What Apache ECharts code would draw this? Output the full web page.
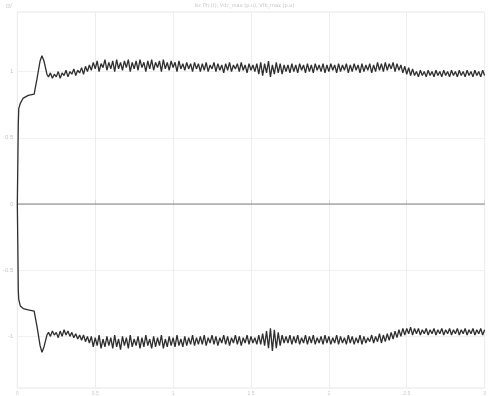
<!DOCTYPE html>
<html>
<head>
<meta charset="utf-8">
<script src="https://cdn.jsdelivr.net/npm/echarts@6/dist/echarts.min.js"></script>
<style>
  html, body { margin: 0; padding: 0; background: #fff; }
  #chart { width: 489px; height: 396px; }
</style>
</head>
<body>
<div id="chart"></div>
<script>
// Start-up transient, read point by point
const tTrans = [0, 0.003, 0.006, 0.009, 0.019, 0.038, 0.07, 0.108, 0.127, 0.146, 0.158, 0.171, 0.19];
const upTrans = [0, 0.3, 0.6, 0.72, 0.76, 0.8, 0.82, 0.83, 0.95, 1.08, 1.12, 1.08, 0.98];
const loTrans = [0, -0.3, -0.65, -0.72, -0.77, -0.79, -0.8, -0.81, -0.93, -1.07, -1.12, -1.08, -0.99];

// Steady part, sampled every steadyStep from steadyStart
const steadyStart = 0.2;
const steadyStep = 0.0125;
const upSteady = [
  0.96, 0.99, 0.95, 0.98, 0.96, 1.00, 0.95, 0.99, 0.97, 1.01, 0.96, 1.00, 0.98, 1.02, 0.97, 1.01, 0.99, 1.03, 0.98, 1.04, 1.00, 1.05,
  1.01, 1.07, 1.02, 1.08, 1.00, 1.06, 1.03, 1.09, 1.01, 1.07, 1.02, 1.08, 1.00, 1.09, 1.02, 1.07,
  1.01, 1.08, 1.03, 1.09, 1.00, 1.07, 1.02, 1.08, 1.01, 1.09, 1.03, 1.07, 1.00, 1.08, 1.02, 1.09,
  1.01, 1.07, 1.03, 1.08, 1.00, 1.09, 1.02, 1.07, 1.01, 1.08, 1.03, 1.07, 1.00, 1.08, 1.02, 1.06,
  1.01, 1.07, 1.02, 1.06, 1.00, 1.07, 1.02, 1.06,
  1.00, 1.06, 1.01, 1.07, 1.00, 1.05, 1.02, 1.07, 1.00, 1.06, 1.01, 1.05, 0.99, 1.06, 1.01, 1.07,
  1.00, 1.05, 1.02, 1.06, 1.00, 1.07, 1.01, 1.05, 0.99, 1.06, 1.01, 1.05, 1.00, 1.06,
  0.98, 1.07, 0.97, 1.06, 0.99, 1.08, 0.96, 1.05, 0.98, 1.07, 0.99, 1.06, 0.98, 1.05, 1.00,
  1.05, 0.99, 1.06, 1.00, 1.05, 0.99, 1.06, 1.01, 1.05, 0.99, 1.06, 1.00, 1.05, 0.99, 1.06, 1.01,
  1.05, 1.00, 1.06, 0.99, 1.05, 1.00, 1.06, 1.01, 1.05, 0.99, 1.06, 1.00, 1.05, 1.01, 1.06, 0.99,
  1.05, 1.00, 1.06, 1.01, 1.05, 0.99, 1.06, 1.00, 1.05, 1.01, 1.06, 0.99, 1.05, 1.00, 1.07, 1.01,
  1.06, 1.00, 1.07, 1.01, 1.06, 1.02, 1.07, 1.00, 1.06, 1.01, 1.05, 0.99, 1.04, 0.98, 1.03, 0.97,
  1.02, 0.97,
  1.00, 0.96, 1.01, 0.97, 1.00, 0.96, 1.01, 0.97, 1.00, 0.96, 1.01, 0.97, 1.00, 0.96, 1.01, 0.97,
  1.00, 0.96, 1.01, 0.97, 1.00, 0.96, 1.01, 0.97, 1.00, 0.96, 1.01, 0.97, 1.00, 0.96, 1.01, 0.97,
  1.00, 0.96, 1.01, 0.97
];
const loSteady = [
  -0.97, -1.00, -0.96, -0.99, -0.97, -1.01, -0.96, -1.00, -0.95, -0.99, -0.96, -1.00, -0.97, -1.01, -0.98, -1.02, -0.99, -1.03, -0.99, -1.04, -1.00, -1.05,
  -1.00, -1.08, -1.01, -1.07, -0.99, -1.09, -1.02, -1.08, -1.00, -1.07, -1.01, -1.09, -0.99, -1.08, -1.02, -1.10,
  -1.00, -1.07, -1.01, -1.09, -0.99, -1.08, -1.02, -1.07, -1.00, -1.09, -1.01, -1.08, -0.99, -1.07, -1.02, -1.09,
  -1.00, -1.08, -1.01, -1.07, -0.99, -1.09, -1.02, -1.08, -1.00, -1.07, -1.01, -1.08, -0.99, -1.07, -1.02, -1.08,
  -1.00, -1.07, -1.01, -1.06, -0.99, -1.07, -1.01, -1.06,
  -1.00, -1.06, -0.99, -1.07, -1.01, -1.05, -0.99, -1.06, -1.00, -1.07, -1.01, -1.05, -0.99, -1.06, -1.00, -1.07,
  -1.01, -1.05, -0.99, -1.06, -1.00, -1.07, -1.01, -1.05, -0.99, -1.06, -1.00, -1.05, -1.01, -1.06,
  -0.99, -1.06, -0.98, -1.07, -0.96, -1.09, -0.94, -1.11, -0.95, -1.09, -0.97, -1.07, -0.99, -1.05, -1.00,
  -1.05, -0.99, -1.06, -1.00, -1.05, -0.99, -1.06, -1.01, -1.05, -0.99, -1.06, -1.00, -1.05, -0.99, -1.06, -1.01,
  -1.05, -1.00, -1.06, -0.99, -1.05, -1.00, -1.06, -1.01, -1.05, -0.99, -1.06, -1.00, -1.05, -1.01, -1.06, -0.99,
  -1.05, -1.00, -1.06, -1.01, -1.05, -0.99, -1.06, -1.00, -1.05, -1.01, -1.04, -0.99, -1.05, -1.00, -1.04, -0.98,
  -1.05, -0.99, -1.04, -0.98, -1.03, -0.97, -1.02, -0.96, -1.01, -0.95, -1.00, -0.94, -0.99, -0.94, -0.98, -0.93,
  -0.99, -0.94,
  -0.98, -0.94, -0.99, -0.95, -0.98, -0.94, -0.99, -0.95, -0.98, -0.94, -0.99, -0.95, -0.98, -0.94, -0.99, -0.95,
  -0.98, -0.94, -0.99, -0.95, -0.98, -0.94, -0.99, -0.95, -0.98, -0.94, -0.99, -0.95, -0.98, -0.94, -0.99, -0.95,
  -0.98, -0.94, -0.99, -0.95
];
const zeroT = [0, 3];
const zeroV = [0, 0];

const xTicks = [0, 0.5, 1, 1.5, 2, 2.5, 3];
const yTicks = [-1, -0.5, 0, 0.5, 1];
const titleText = 'Isc Ph (t), Vdc_max (p.u), Vfb_max (p.u)';

function buildSeries(trans, steady) {
  const pts = tTrans.map((t, i) => [t, trans[i]]);
  steady.forEach((v, i) => pts.push([steadyStart + i * steadyStep, v]));
  return pts;
}

const chart = echarts.init(document.getElementById('chart'), null, { renderer: 'canvas' });

const lineStyle = { color: '#2e2e2e', width: 1.3 };

chart.setOption({
  animation: false,
  grid: {
    left: 16, right: 0, top: 12, bottom: 8,
    show: true, borderColor: '#e6e6e6', borderWidth: 1
  },
  xAxis: {
    type: 'value',
    min: 0, max: 3,
    axisLabel: { customValues: xTicks, fontSize: 5, color: '#c8c8c8', margin: 3 },
    axisTick: { customValues: xTicks, inside: true, length: 4, lineStyle: { color: '#d8d8d8' } },
    axisLine: { lineStyle: { color: '#d8d8d8' } },
    splitLine: { lineStyle: { color: '#ededed' } }
  },
  yAxis: {
    type: 'value',
    min: -1.39, max: 1.45,
    axisLabel: { customValues: yTicks, fontSize: 6, color: '#c4c4c4', margin: 4 },
    axisTick: { customValues: yTicks, show: false },
    axisLine: { show: false },
    splitLine: { lineStyle: { color: '#f1f1f1' } }
  },
  graphic: [
    { type: 'text', left: 'center', top: 3, style: { text: titleText, fontSize: 5, fill: '#c4c4c4', fontFamily: 'DejaVu Sans' } },
    { type: 'text', left: 6, top: 3, style: { text: 'ɑ/', fontSize: 7, fill: '#cfcfcf', fontStyle: 'italic' } }
  ],
  series: [
    {
      type: 'line', showSymbol: false, silent: true,
      data: zeroT.map((t, i) => [t, zeroV[i]]),
      lineStyle: { color: '#8a8a8a', width: 1 }
    },
    {
      type: 'line', showSymbol: false, silent: true,
      data: buildSeries(upTrans, upSteady),
      lineStyle: lineStyle
    },
    {
      type: 'line', showSymbol: false, silent: true,
      data: buildSeries(loTrans, loSteady),
      lineStyle: lineStyle
    }
  ]
});
</script>
</body>
</html>
